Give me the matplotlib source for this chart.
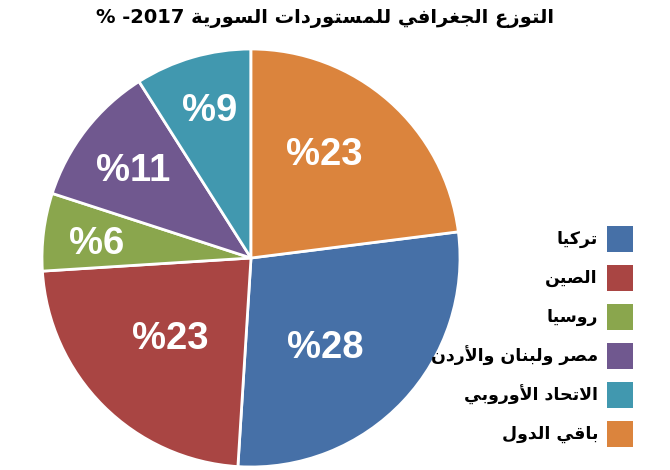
import matplotlib
matplotlib.use("Agg")
import matplotlib.pyplot as plt
from matplotlib.patches import Rectangle
import numpy as np

# ---------------- data ----------------
countries = ["تركيا", "الصين", "روسيا", "مصر ولبنان والأردن", "الاتحاد الأوروبي", "باقي الدول"]
shares = [28, 23, 6, 11, 9, 23]
colors = ["#4670A7", "#A94543", "#8AA64D", "#70588F", "#4198AF", "#DB843D"]
title_ar = "التوزع الجغرافي للمستوردات السورية"
title_year = "2017"

# label placement (style): radial fraction and angular nudge (deg) per wedge
label_dist = [0.557, 0.548, 0.742, 0.70, 0.73, 0.605]
label_nudge = [-7.4, 0.0, 2.0, 1.4, -0.6, 5.9]

# ---------------- minimal Arabic shaping ----------------
FORMS = {
    '\u0621': ('\uFE80',),
    '\u0622': ('\uFE81', '\uFE82'),
    '\u0623': ('\uFE83', '\uFE84'),
    '\u0624': ('\uFE85', '\uFE86'),
    '\u0625': ('\uFE87', '\uFE88'),
    '\u0626': ('\uFE89', '\uFE8A', '\uFE8B', '\uFE8C'),
    '\u0627': ('\uFE8D', '\uFE8E'),
    '\u0628': ('\uFE8F', '\uFE90', '\uFE91', '\uFE92'),
    '\u0629': ('\uFE93', '\uFE94'),
    '\u062A': ('\uFE95', '\uFE96', '\uFE97', '\uFE98'),
    '\u062B': ('\uFE99', '\uFE9A', '\uFE9B', '\uFE9C'),
    '\u062C': ('\uFE9D', '\uFE9E', '\uFE9F', '\uFEA0'),
    '\u062D': ('\uFEA1', '\uFEA2', '\uFEA3', '\uFEA4'),
    '\u062E': ('\uFEA5', '\uFEA6', '\uFEA7', '\uFEA8'),
    '\u062F': ('\uFEA9', '\uFEAA'),
    '\u0630': ('\uFEAB', '\uFEAC'),
    '\u0631': ('\uFEAD', '\uFEAE'),
    '\u0632': ('\uFEAF', '\uFEB0'),
    '\u0633': ('\uFEB1', '\uFEB2', '\uFEB3', '\uFEB4'),
    '\u0634': ('\uFEB5', '\uFEB6', '\uFEB7', '\uFEB8'),
    '\u0635': ('\uFEB9', '\uFEBA', '\uFEBB', '\uFEBC'),
    '\u0636': ('\uFEBD', '\uFEBE', '\uFEBF', '\uFEC0'),
    '\u0637': ('\uFEC1', '\uFEC2', '\uFEC3', '\uFEC4'),
    '\u0638': ('\uFEC5', '\uFEC6', '\uFEC7', '\uFEC8'),
    '\u0639': ('\uFEC9', '\uFECA', '\uFECB', '\uFECC'),
    '\u063A': ('\uFECD', '\uFECE', '\uFECF', '\uFED0'),
    '\u0641': ('\uFED1', '\uFED2', '\uFED3', '\uFED4'),
    '\u0642': ('\uFED5', '\uFED6', '\uFED7', '\uFED8'),
    '\u0643': ('\uFED9', '\uFEDA', '\uFEDB', '\uFEDC'),
    '\u0644': ('\uFEDD', '\uFEDE', '\uFEDF', '\uFEE0'),
    '\u0645': ('\uFEE1', '\uFEE2', '\uFEE3', '\uFEE4'),
    '\u0646': ('\uFEE5', '\uFEE6', '\uFEE7', '\uFEE8'),
    '\u0647': ('\uFEE9', '\uFEEA', '\uFEEB', '\uFEEC'),
    '\u0648': ('\uFEED', '\uFEEE'),
    '\u0649': ('\uFEEF', '\uFEF0'),
    '\u064A': ('\uFEF1', '\uFEF2', '\uFEF3', '\uFEF4'),
}
LAMALEF = {
    '\u0622': ('\uFEF5', '\uFEF6'),
    '\u0623': ('\uFEF7', '\uFEF8'),
    '\u0625': ('\uFEF9', '\uFEFA'),
    '\u0627': ('\uFEFB', '\uFEFC'),
}


def shape_rtl(s):
    toks = []
    i = 0
    while i < len(s):
        c = s[i]
        if c == '\u0644' and i + 1 < len(s) and s[i + 1] in LAMALEF:
            toks.append(LAMALEF[s[i + 1]])
            i += 2
        else:
            toks.append(FORMS.get(c, c))
            i += 1

    def dual(t):
        return isinstance(t, tuple) and len(t) == 4

    def joins_prev(t):
        return isinstance(t, tuple) and len(t) >= 2

    out = []
    n = len(toks)
    for k, t in enumerate(toks):
        if not isinstance(t, tuple):
            out.append(t)
            continue
        jp = k > 0 and dual(toks[k - 1]) and joins_prev(t)
        jn = dual(t) and k + 1 < n and joins_prev(toks[k + 1])
        if jp and jn:
            out.append(t[3])
        elif jp:
            out.append(t[1])
        elif jn:
            out.append(t[2])
        else:
            out.append(t[0])
    return ''.join(out)[::-1]


AR_FONT = ["DejaVu Sans"]

# ---------------- figure ----------------
W, H = 670, 470
fig = plt.figure(figsize=(W / 100, H / 100), dpi=100)
fig.patch.set_facecolor("white")

cx, cy, R = 251, 258, 209  # pixels (from top)
ax = fig.add_axes([(cx - R) / W, (H - cy - R) / H, 2 * R / W, 2 * R / H])
total = sum(shares)
wedges, _ = ax.pie(shares, colors=colors, startangle=90 - shares[-1] / total * 360,
                   counterclock=False, radius=1,
                   wedgeprops=dict(edgecolor="white", linewidth=2))
ax.set_xlim(-1, 1)
ax.set_ylim(-1, 1)
ax.set_aspect("equal")
ax.axis("off")

for w, v, d, nud in zip(wedges, shares, label_dist, label_nudge):
    th = np.deg2rad((w.theta1 + w.theta2) / 2 + nud)
    ax.text(d * np.cos(th), d * np.sin(th), f"%{v}", ha="center", va="center",
            color="white", fontsize=27.5, fontweight="bold",
            family=["Liberation Sans", "DejaVu Sans"])

# title
fig.text(325 / W, 1 - 18 / H, f"% -{title_year} " + shape_rtl(title_ar),
         ha="center", va="center", fontsize=14, fontweight="bold",
         family=AR_FONT, color="black")

# legend (RTL: text left of swatch)
sq = 26
x_sq = 607
y0 = 226
step = 39
for i, (name, col) in enumerate(zip(countries, colors)):
    top = y0 + i * step
    fig.add_artist(Rectangle((x_sq / W, 1 - (top + sq) / H), sq / W, sq / H,
                             transform=fig.transFigure, facecolor=col,
                             edgecolor="none"))
    fig.text(598 / W, 1 - (top + sq / 2) / H, shape_rtl(name), ha="right",
             va="center", fontsize=12.5, fontweight="bold",
             family=AR_FONT, color="black")

fig.savefig("out.png", dpi=100, facecolor="white")
